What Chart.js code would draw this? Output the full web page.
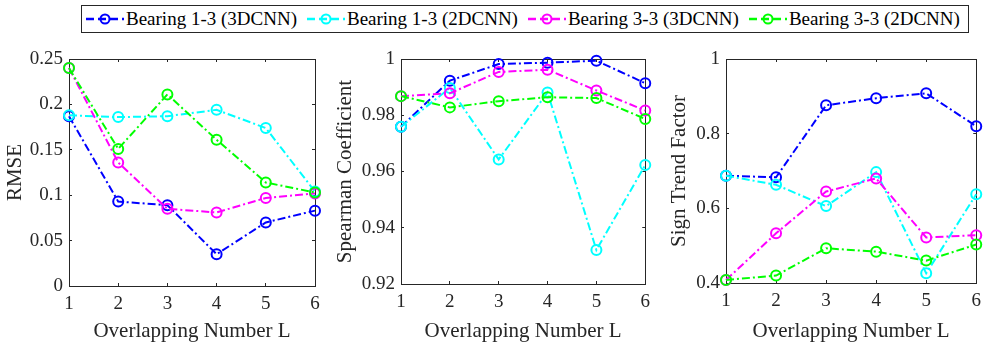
<!DOCTYPE html>
<html>
<head>
    <meta charset="UTF-8">
    <script src="https://cdn.jsdelivr.net/npm/chart.js"></script>
    <style>
        body { margin: 0; background: #fff; width: 991px; height: 348px; position: relative; overflow: hidden; font-family: 'Liberation Serif', serif; }
        canvas { position: absolute; top: 0; }
        #legend { position: absolute; left: 81px; top: 5px; width: 888px; height: 28px; border: 1px solid #262626; display: flex; align-items: center; padding-left: 3px; box-sizing: border-box; }
        .item { display: flex; align-items: center; margin-right: 9px; font-size: 19px; color: #000; white-space: nowrap; }
        .item svg { margin-right: 1px; }
    </style>
</head>
<body>
    <div id="legend"></div>
    <canvas id="c1" width="335" height="348" style="left:0px"></canvas>
    <canvas id="c2" width="325" height="348" style="left:335px"></canvas>
    <canvas id="c3" width="331" height="348" style="left:660px"></canvas>

    <script>
        // eje x: numero de solapamiento
        const overlap = [1, 2, 3, 4, 5, 6];

        const seriesNames = ['Bearing 1-3 (3DCNN)', 'Bearing 1-3 (2DCNN)', 'Bearing 3-3 (3DCNN)', 'Bearing 3-3 (2DCNN)'];
        const seriesColors = ['#0000ff', '#00ffff', '#ff00ff', '#00ff00'];

        // RMSE
        const rmse13_3d = [0.187, 0.093, 0.089, 0.035, 0.070, 0.083];
        const rmse13_2d = [0.188, 0.186, 0.187, 0.194, 0.174, 0.104];
        const rmse33_3d = [0.240, 0.136, 0.085, 0.081, 0.097, 0.102];
        const rmse33_2d = [0.240, 0.151, 0.211, 0.161, 0.114, 0.103];
        const rmseTicks = [0, 0.05, 0.1, 0.15, 0.2, 0.25];

        // Spearman
        const spear13_3d = [0.9759, 0.9923, 0.9982, 0.9987, 0.9994, 0.9914];
        const spear13_2d = [0.9759, 0.9897, 0.9643, 0.9881, 0.9321, 0.9623];
        const spear33_3d = [0.9868, 0.9878, 0.9954, 0.9962, 0.9888, 0.9817];
        const spear33_2d = [0.9868, 0.9828, 0.9850, 0.9864, 0.9861, 0.9787];
        const spearTicks = [0.92, 0.94, 0.96, 0.98, 1];

        // Sign trend factor
        const sign13_3d = [0.6875, 0.683, 0.876, 0.895, 0.908, 0.820];
        const sign13_2d = [0.6875, 0.663, 0.606, 0.697, 0.426, 0.6375];
        const sign33_3d = [0.408, 0.533, 0.645, 0.680, 0.522, 0.528];
        const sign33_2d = [0.408, 0.420, 0.493, 0.484, 0.460, 0.503];
        const signTicks = [0.4, 0.6, 0.8, 1];

        const axisColor = '#262626';
        const fontFam = "'Liberation Serif', serif";
        Chart.defaults.font.family = fontFam;

        // leyenda html
        const legend = document.getElementById('legend');
        seriesNames.forEach((name, i) => {
            const el = document.createElement('div');
            el.className = 'item';
            el.innerHTML = `<svg width="40" height="20"><line x1="1" y1="10" x2="39" y2="10" stroke="${seriesColors[i]}" stroke-width="2.5" stroke-dasharray="8 4"/>` +
                `<circle cx="20" cy="10" r="4.5" fill="none" stroke="${seriesColors[i]}" stroke-width="2"/></svg><span>${name}</span>`;
            legend.appendChild(el);
        });

        function makeChart(id, series, ticks, title, yWidth, padRight, xHeight, yTitlePad) {
            const yMin = ticks[0], yMax = ticks[ticks.length - 1];
            const setTicks = s => { s.ticks = ticks.map(v => ({ value: v })); };
            const setX = s => { s.ticks = overlap.map(v => ({ value: v })); };
            const tickFont = { family: fontFam, size: 19 };
            const titleFont = { family: fontFam, size: 21, lineHeight: 1 };
            const common = {
                grid: { drawOnChartArea: false, drawTicks: true, tickLength: -3, color: axisColor },
                border: { display: true, color: axisColor, width: 1 }
            };
            new Chart(document.getElementById(id), {
                type: 'line',
                data: {
                    datasets: series.map((vals, i) => ({
                        label: seriesNames[i],
                        data: vals.map((v, k) => ({ x: overlap[k], y: v })),
                        borderColor: seriesColors[i],
                        backgroundColor: 'transparent',
                        borderWidth: 2,
                        borderDash: [8, 3, 2, 3],
                        pointRadius: 5,
                        pointBorderWidth: 2,
                        pointBackgroundColor: 'transparent',
                        pointBorderColor: seriesColors[i],
                        pointStyle: 'circle',
                        clip: false,
                        order: 4 - i
                    }))
                },
                options: {
                    responsive: false,
                    animation: false,
                    layout: { padding: { top: 59, right: padRight, left: 0, bottom: 0 } },
                    plugins: { legend: { display: false }, tooltip: { enabled: false } },
                    scales: {
                        x: {
                            type: 'linear', position: 'bottom', min: 1, max: 6,
                            afterBuildTicks: setX,
                            afterFit: s => { s.height = xHeight; },
                            ticks: { font: tickFont, color: axisColor, padding: 10, maxRotation: 0 },
                            title: { display: true, text: 'Overlapping Number L', font: titleFont, color: axisColor, padding: { top: 0, bottom: 6 } },
                            ...common
                        },
                        x2: {
                            type: 'linear', position: 'top', min: 1, max: 6,
                            afterBuildTicks: setX,
                            afterFit: s => { s.height = 0; },
                            ticks: { display: false },
                            ...common
                        },
                        y: {
                            type: 'linear', position: 'left', min: yMin, max: yMax,
                            afterBuildTicks: setTicks,
                            afterFit: s => { s.width = yWidth; },
                            ticks: { font: tickFont, color: axisColor, padding: 9, callback: v => String(+v.toFixed(4)) },
                            title: { display: true, text: title, font: titleFont, color: axisColor, padding: { top: yTitlePad, bottom: 0 } },
                            ...common
                        },
                        y2: {
                            type: 'linear', position: 'right', min: yMin, max: yMax,
                            afterBuildTicks: setTicks,
                            afterFit: s => { s.width = 0; },
                            ticks: { display: false },
                            ...common
                        }
                    }
                }
            });
        }

        makeChart('c1', [rmse13_3d, rmse13_2d, rmse33_3d, rmse33_2d], rmseTicks, 'RMSE', 69, 20, 62, 4.5);
        makeChart('c2', [spear13_3d, spear13_2d, spear33_3d, spear33_2d], spearTicks, 'Spearman Coefficient', 66, 14, 64, 0);
        makeChart('c3', [sign13_3d, sign13_2d, sign33_3d, sign33_2d], signTicks, 'Sign Trend Factor', 66, 13, 65, 9);
    </script>
</body>
</html>
